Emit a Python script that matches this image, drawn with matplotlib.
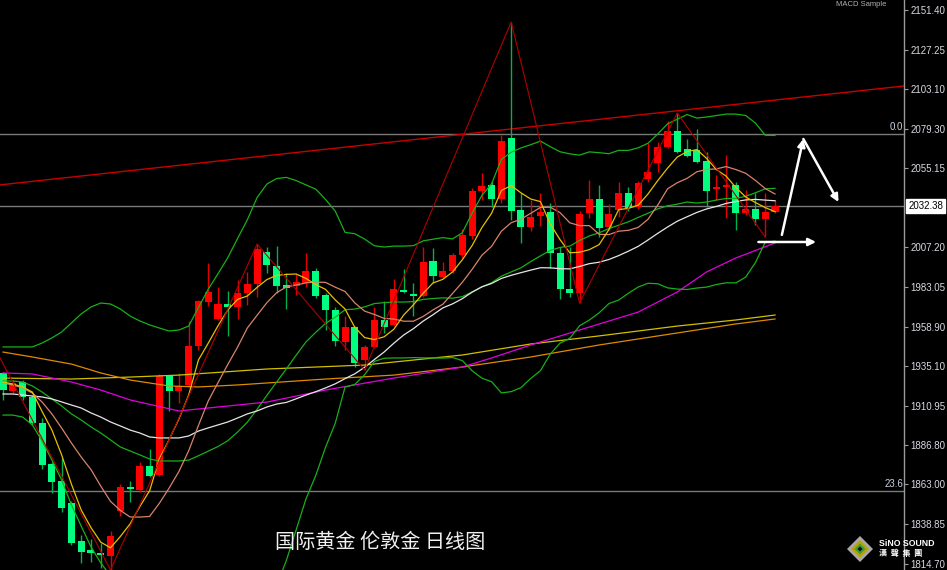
import numpy as np
import pandas as pd
import matplotlib
matplotlib.use("Agg")
import matplotlib.pyplot as plt
from matplotlib.patches import Polygon
import matplotlib.transforms as mtransforms

plt.rcParams['font.family'] = ['Noto Sans CJK SC', 'DejaVu Sans']

# ---------------- data (daily OHLC) ----------------
opens = [1930.8, 1919.9, 1925.3, 1916.2, 1900.4, 1875.5, 1865.1, 1851.8, 1828.7, 1823.2,
         1821.4, 1819.6, 1846.9, 1860.9, 1859.7, 1874.3, 1868.8, 1929.0, 1919.9, 1923.5,
         1947.2, 1973.9, 1963.6, 1972.7, 1970.9, 1979.4, 1984.9, 2004.3, 1995.8, 1984.2,
         1983.6, 1985.5, 1992.8, 1978.2, 1969.1, 1949.6, 1958.7, 1938.7, 1946.6, 1963.0,
         1960.0, 1981.2, 1978.8, 1977.6, 1998.9, 1989.1, 1992.8, 2002.5, 2014.0, 2041.4,
         2045.1, 2036.5, 2073.6, 2029.9, 2019.5, 2026.2, 2028.6, 2003.7, 1981.8, 1979.4,
         2028.0, 2036.5, 2019.5, 2029.8, 2040.2, 2031.7, 2048.7, 2058.4, 2068.1, 2077.9,
         2066.9, 2066.3, 2059.6, 2042.6, 2043.8, 2045.1, 2028.0, 2030.5, 2024.4, 2028.6]
highs = [1931.4, 1926.5, 1926.5, 1917.4, 1903.4, 1876.7, 1879.1, 1853.0, 1832.3, 1829.9,
         1827.5, 1834.7, 1863.3, 1865.1, 1876.7, 1884.6, 1930.2, 1929.6, 1930.8, 1962.4,
         1975.1, 1997.6, 1983.0, 1980.6, 1987.3, 1992.2, 2009.2, 2007.4, 2008.0, 1991.6,
         1991.0, 2003.7, 1994.6, 1979.4, 1970.9, 1965.4, 1959.3, 1947.8, 1970.9, 1974.5,
         1987.9, 1994.0, 1985.5, 2007.4, 2006.8, 1998.3, 2003.7, 2018.3, 2043.2, 2052.3,
         2046.9, 2075.4, 2144.1, 2040.2, 2035.9, 2040.2, 2034.1, 2007.4, 2007.4, 2029.2,
         2048.1, 2045.1, 2033.5, 2046.9, 2043.8, 2047.5, 2070.6, 2071.2, 2083.9, 2088.8,
         2073.0, 2079.1, 2065.1, 2051.1, 2063.3, 2046.9, 2042.0, 2040.2, 2040.2, 2035.9]
lows = [1914.4, 1918.6, 1914.4, 1899.2, 1872.4, 1857.9, 1846.3, 1826.3, 1815.3, 1815.9,
        1812.0, 1811.0, 1843.9, 1852.4, 1858.5, 1867.6, 1868.2, 1907.7, 1912.5, 1922.3,
        1944.8, 1971.5, 1963.0, 1953.3, 1963.6, 1972.1, 1977.0, 1991.6, 1979.4, 1969.7,
        1978.2, 1983.0, 1976.4, 1956.9, 1947.2, 1944.8, 1934.4, 1932.6, 1946.0, 1955.1,
        1959.4, 1979.4, 1965.4, 1977.0, 1985.5, 1988.5, 1991.6, 2000.7, 2012.2, 2035.9,
        2031.7, 2034.1, 2023.8, 2009.8, 2017.1, 2020.1, 1994.6, 1975.8, 1977.0, 1973.3,
        2025.0, 2013.4, 2017.7, 2025.6, 2029.2, 2030.5, 2046.9, 2052.9, 2067.5, 2064.5,
        2062.1, 2058.4, 2031.7, 2035.9, 2025.0, 2017.7, 2026.8, 2020.7, 2013.4, 2028.0]
closes = [1920.5, 1924.7, 1916.2, 1900.4, 1874.9, 1864.5, 1848.7, 1827.4, 1822.0, 1821.4,
          1820.2, 1831.7, 1861.5, 1860.3, 1874.3, 1868.2, 1929.0, 1919.9, 1922.9, 1947.2,
          1974.5, 1980.0, 1972.7, 1970.9, 1979.4, 1984.9, 2006.2, 1996.4, 1983.6, 1982.4,
          1986.1, 1992.8, 1977.6, 1969.1, 1950.2, 1958.7, 1936.9, 1946.6, 1963.0, 1958.7,
          1981.8, 1980.0, 1977.6, 1998.3, 1989.7, 1992.8, 2002.5, 2014.6, 2041.4, 2044.4,
          2036.5, 2071.8, 2029.2, 2019.5, 2025.6, 2028.6, 2003.7, 1981.8, 1979.4, 2027.4,
          2036.5, 2018.9, 2027.4, 2040.2, 2031.1, 2046.3, 2052.9, 2068.1, 2077.9, 2065.1,
          2062.7, 2059.0, 2041.4, 2043.8, 2045.1, 2028.0, 2030.5, 2024.4, 2028.6, 2032.38]

# indicator values before the rolling windows fill
ma5_lead = [1925.3, 1924.1, 1922.3, 1919.2]
ma10_lead = [1924.7, 1923.5, 1921.7, 1918.6, 1913.1, 1905.9, 1897.3, 1888.2, 1879.7]
ma30_lead = [1918.0, 1918.0, 1917.4, 1916.8, 1916.2, 1915.0, 1913.2, 1911.3, 1909.5, 1906.5,
             1904.0, 1901.0, 1898.6, 1896.1, 1894.3, 1891.9, 1891.3, 1891.3, 1891.3, 1892.5,
             1895.5, 1897.4, 1899.2, 1901.0, 1903.4, 1905.9, 1907.7, 1910.1, 1911.9]
bb_mid_lead = [1925.9, 1925.9, 1925.3, 1922.9, 1919.2, 1915.0, 1910.7, 1905.9, 1902.2, 1898.0,
               1894.3, 1890.1, 1885.8, 1883.4, 1881.0, 1878.5, 1877.3, 1877.3, 1877.3]
bb_up_lead = [1946.6, 1946.6, 1946.6, 1946.6, 1949.0, 1952.1, 1955.7, 1961.2, 1966.7, 1970.9,
              1973.3, 1972.7, 1969.7, 1965.4, 1962.4, 1960.0, 1958.1, 1956.3, 1956.9]

# long moving averages (read at sample candles)
ma_magenta_idx = [0, 3, 7, 10, 13, 18, 20, 23, 27, 33, 40, 47, 50, 54, 59, 65, 69, 72, 75, 79]
ma_magenta_val = [1930.8, 1930.2, 1925.3, 1920.4, 1914.4, 1907.7, 1908.9, 1910.7, 1913.1, 1920.4,
                  1927.7, 1934.4, 1939.9, 1947.8, 1956.9, 1967.8, 1980.0, 1992.2, 2000.7, 2009.8]
ma_orange_idx = [0, 3, 7, 10, 13, 17, 20, 24, 27, 33, 40, 47, 54, 61, 69, 75, 79]
ma_orange_val = [1943.5, 1940.5, 1936.2, 1930.8, 1926.5, 1922.9, 1922.3, 1923.5, 1924.7, 1927.1,
                 1929.5, 1934.4, 1940.5, 1947.8, 1955.1, 1960.6, 1963.6]
ma_olive_idx = [0, 7, 13, 18, 27, 37, 47, 54, 61, 69, 75, 79]
ma_olive_val = [1927.7, 1927.1, 1928.3, 1929.5, 1933.2, 1935.6, 1941.7, 1948.4, 1953.3, 1959.3,
                1963.0, 1966.0]

# zigzag pivots (candle index, 'H'/'L'), lead-in point from off-chart
zz_lead = (-1, 1947.8)
zz_pivots = [(11, 'L'), (26, 'H'), (37, 'L'), (52, 'H'), (59, 'L'), (69, 'H'), (78, 'L')]

# channel line through two points
channel_pts = [(0, 2045.3), (90, 2103.8)]

# horizontal levels
fib_levels = [2075.8, 1859.3]
fib_labels = ['0.0', '23.6']
last_price = 2032.38

# white projection arrows (start, end)
arrows = [((79.7, 2014.7), (81.9, 2073.0)),
          ((81.9, 2073.0), (85.5, 2034.7)),
          ((77.3, 2010.4), (83.2, 2010.4))]

yticks = [2151.40, 2127.25, 2103.10, 2079.30, 2055.15, 2007.20, 1983.05, 1958.90,
          1935.10, 1910.95, 1886.80, 1863.00, 1838.85, 1814.70]

title_text = '国际黄金 伦敦金 日线图'

# ---------------- figure ----------------
W, H = 947, 570
fig = plt.figure(figsize=(W / 100, H / 100), dpi=100, facecolor='black')
ax = fig.add_axes([0, 0, 904 / W, 1])
ax.set_facecolor('black')

n = len(closes)
idx = np.arange(n)
o = np.array(opens); h = np.array(highs); l = np.array(lows); c = np.array(closes)

# indicators
cs = pd.Series(closes)
ma5 = cs.rolling(5).mean().values
ma5[:len(ma5_lead)] = ma5_lead
ma10 = cs.rolling(10).mean().values
ma10[:len(ma10_lead)] = ma10_lead
ma30 = cs.rolling(30).mean().values
ma30[:len(ma30_lead)] = ma30_lead
bb_mid = cs.rolling(20).mean().values
bb_sd = cs.rolling(20).std(ddof=0).values
bb_up = bb_mid + 2 * bb_sd
bb_lo = bb_mid - 2 * bb_sd
k = len(bb_mid_lead)
bb_mid[:k] = bb_mid_lead
bb_up[:k] = bb_up_lead
bb_lo[:k] = 2 * np.array(bb_mid_lead) - np.array(bb_up_lead)

# horizontal lines
for lv in fib_levels + [last_price]:
    ax.axhline(lv, color='#7a7a7a', lw=1.0, zorder=1)

# channel
ax.axline(channel_pts[0], channel_pts[1], color='#c80000', lw=1.0, zorder=1.5)

# candles
up = c >= o
wick_col = np.where(up, '#e00000', '#00b050')
ax.vlines(idx, l, h, colors=wick_col, lw=1.0, zorder=2)
body_bot = np.minimum(o, c)
body_h = np.maximum(np.abs(c - o), 0.9)
body_col = np.where(up, '#ff0000', '#00ff80')
ax.bar(idx, body_h, bottom=body_bot, width=0.72, color=body_col, edgecolor='none', zorder=2.5)

# moving averages / bands
lw = 0.9
ax.plot(ma_olive_idx, ma_olive_val, color='#d2c000', lw=lw, zorder=3)
ax.plot(ma_orange_idx, ma_orange_val, color='#e08a00', lw=lw, zorder=3)
ax.plot(ma_magenta_idx, ma_magenta_val, color='#e000e0', lw=lw, zorder=3)
ax.plot(idx, bb_up, color='#18b018', lw=lw, zorder=3)
ax.plot(idx, bb_mid, color='#18b018', lw=lw, zorder=3)
ax.plot(idx, bb_lo, color='#18b018', lw=lw, zorder=3)
ax.plot(idx, ma30, color='#e6e6e6', lw=lw, zorder=3)
ax.plot(idx, ma10, color='#d9836c', lw=lw, zorder=3)
ax.plot(idx, ma5, color='#e8c000', lw=lw, zorder=3)

# zigzag
zx = [zz_lead[0]] + [p for p, t in zz_pivots]
zy = [zz_lead[1]] + [highs[p] if t == 'H' else lows[p] for p, t in zz_pivots]
ax.plot(zx, zy, color='#b00000', lw=0.8, zorder=3.2)

# arrows
for (x0, y0), (x1, y1) in arrows:
    ax.annotate('', xy=(x1, y1), xytext=(x0, y0),
                arrowprops=dict(arrowstyle='-|>', color='white', lw=1.8,
                                mutation_scale=11, shrinkA=0, shrinkB=0), zorder=5)

ax.set_xlim(-0.31, 92.2)
ax.set_ylim(1811.03, 2157.48)
ax.set_xticks([])
ax.yaxis.tick_right()
ax.set_yticks(yticks)
ax.set_yticklabels(['%.2f' % v for v in yticks], fontfamily='Liberation Sans')
ax.tick_params(axis='y', colors='#9a9a9a', labelcolor='#d8d8e0', labelsize=7,
               length=3, width=0.8, pad=1.5)
for s in ['top', 'left', 'bottom']:
    ax.spines[s].set_visible(False)
ax.spines['right'].set_color('#9a9a9a')
ax.spines['right'].set_linewidth(1.0)

# last price label
trans = mtransforms.blended_transform_factory(ax.transAxes, ax.transData)
ax.text(1.0045, last_price, '%.2f' % last_price, transform=trans, ha='left', va='center',
        fontsize=7, color='black', fontfamily='Liberation Sans', clip_on=False, zorder=6,
        bbox=dict(boxstyle='square,pad=0.2', fc='white', ec='white'))

# fib labels
for lv, lab in zip(fib_levels, fib_labels):
    ax.text(0.999, lv + 1.2, lab, transform=trans, ha='right', va='bottom', fontsize=7,
            color='#c8d0e0', fontfamily='Liberation Sans', zorder=6)

# top indicator caption
fig.text(836 / W, 1 - 5 / H, 'MACD Sample', fontsize=5.5, color='#b0b0b0', va='center',
         ha='left', fontfamily='Liberation Sans')

# title
fig.text(380 / W, 1 - 542 / H, title_text, fontsize=14.5, color='#f0f0f0', ha='center',
         va='center', family=['Noto Sans CJK SC', 'DejaVu Sans'])

# logo
def fpt(x, y):
    return (x / W, 1 - y / H)

cx, cy = 860, 549
for r, col in [(13, '#a8a8a8'), (9, '#b8a400'), (5.5, '#3c9a3c'), (2.5, '#101010')]:
    pts = [fpt(cx, cy - r), fpt(cx + r, cy), fpt(cx, cy + r), fpt(cx - r, cy)]
    fig.add_artist(Polygon(pts, closed=True, transform=fig.transFigure, fc=col, ec='none'))
fig.text(879 / W, 1 - 544 / H, 'SiNO SOUND', fontsize=6.3, color='white', fontweight='bold',
         ha='left', va='center', fontfamily='Liberation Sans')
fig.text(879 / W, 1 - 553.5 / H, '漢  聲  集  團', fontsize=5.8, color='white', fontweight='bold',
         ha='left', va='center', family=['Noto Sans CJK TC', 'DejaVu Sans'])

fig.savefig('out.png', dpi=100, facecolor='black')
